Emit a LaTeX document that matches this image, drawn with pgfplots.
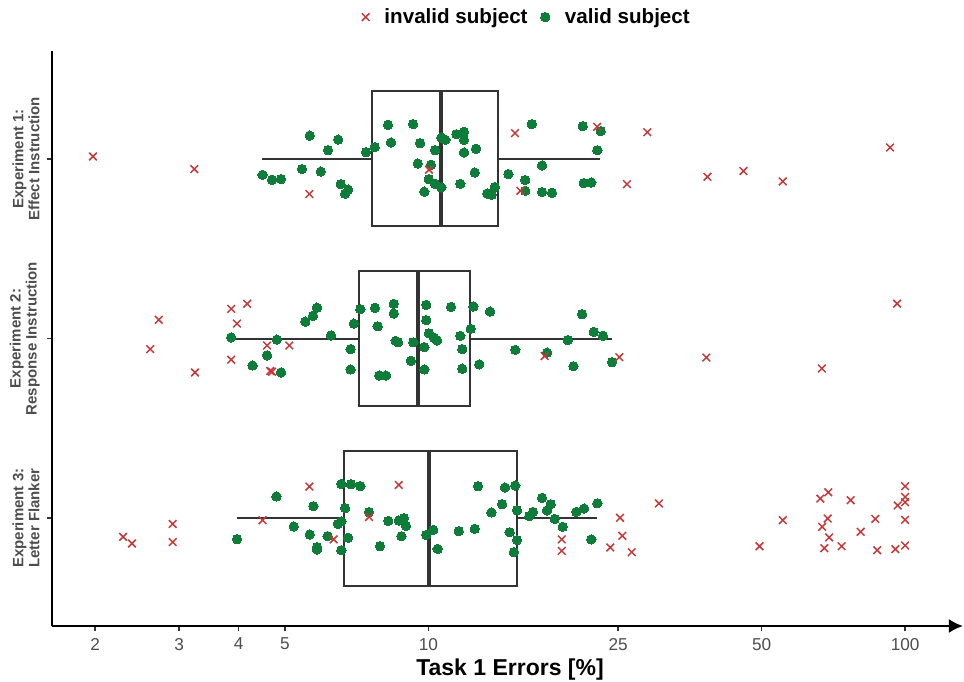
\documentclass[border=0pt]{standalone}
\usepackage{fontspec}
\setmainfont{Liberation Sans}
\usepackage{pgfplots}
\pgfplotsset{compat=1.18}
\usepgfplotslibrary{statistics}
\usetikzlibrary{arrows.meta}
\definecolor{invred}{RGB}{200,55,55}
\definecolor{valgreen}{RGB}{13,125,57}
\definecolor{boxgray}{RGB}{51,51,51}
\definecolor{txtgray}{RGB}{77,77,77}
\begin{document}
\begin{tikzpicture}
\useasboundingbox (-25.85pt,-27.5pt) rectangle (456.15pt,313pt);
\begin{axis}[
  at={(0,0)}, anchor=south west,
  scale only axis, width=455.6pt, height=287.5pt,
  xmode=log, xmin=1.622, xmax=132.2, ymin=0.4, ymax=3.6,
  axis lines*=left,
  x axis line style={line width=1pt, -{Latex[length=7pt,width=7pt]}},
  y axis line style={line width=1pt},
  xtick={2,3,4,5,10,25,50,100},
  xticklabels={2,3,4,5,10,25,50,100},
  minor xtick={},
  ytick={1,2,3},
  yticklabels={{Experiment 3:\\Letter Flanker},{Experiment 2:\\Response Instruction},{Experiment 1:\\Effect Instruction}},
  tick align=outside, major tick length=2.5pt,
  tick style={line width=0.8pt, color=boxgray},
  xticklabel style={font=\fontsize{8.6}{10}\selectfont, text=txtgray},
  yticklabel style={rotate=90, anchor=south, align=center, font=\fontsize{7.5}{8}\selectfont\bfseries, text=txtgray},
  xlabel={Task 1 Errors [\%]},
  xlabel style={font=\fontsize{11.5}{13}\selectfont\bfseries, at={(axis description cs:0.503,0)}, anchor=north, yshift=-13pt},
  clip=false,
  reverse legend,
  legend columns=2,
  legend style={draw=none, fill=none, at={(0.5225,1.059)}, anchor=center, font=\fontsize{10.3}{11}\selectfont\bfseries,
    /tikz/every odd column/.append style={column sep=5.5pt},
    /tikz/every even column/.append style={column sep=4.5pt}},
  boxplot/every median/.style={line width=2pt},
]
% boxes
\addplot+[forget plot, solid, draw=boxgray, fill=white, line width=1pt, mark=none,
  boxplot prepared={draw position=3, lower whisker=4.48, lower quartile=7.62, median=10.63, upper quartile=14.0, upper whisker=22.9, box extend=0.75, whisker extend=0, draw direction=x}] coordinates {};
\addplot+[forget plot, solid, draw=boxgray, fill=white, line width=1pt, mark=none,
  boxplot prepared={draw position=2, lower whisker=3.85, lower quartile=7.15, median=9.52, upper quartile=12.23, upper whisker=24.3, box extend=0.75, whisker extend=0, draw direction=x}] coordinates {};
\addplot+[forget plot, solid, draw=boxgray, fill=white, line width=1pt, mark=none,
  boxplot prepared={draw position=1, lower whisker=3.97, lower quartile=6.66, median=10.05, upper quartile=15.35, upper whisker=22.6, box extend=0.75, whisker extend=0, draw direction=x}] coordinates {};
% valid subjects
\addplot[only marks, mark=*, mark size=2.35pt, mark options={draw=valgreen, fill=valgreen, line width=0pt}] coordinates {
(5.64,3.129) (6.47,3.107) (6.16,3.048) (7.40,3.037) (7.72,3.065) (8.23,3.189) (9.29,3.193) (8.35,3.091) (9.61,3.087) (10.65,3.118) (10.86,3.106) (10.33,3.048) (11.45,3.137) (11.88,3.150) (11.88,3.106) (11.88,3.035) (12.59,3.056) (4.49,2.911) (4.70,2.883) (4.91,2.887) (5.43,2.943) (5.95,2.929) (6.55,2.859) (6.79,2.829) (6.69,2.806) (9.50,2.974) (10.13,2.967) (10.02,2.887) (10.33,2.861) (10.65,2.841) (9.81,2.817) (11.67,2.861) (12.51,2.924) (13.29,2.807) (13.58,2.800) (13.78,2.843) (16.48,3.193) (15.97,2.822) (15.97,2.882) (14.72,2.915) (17.32,2.963) (17.32,2.815) (18.17,2.811) (21.08,3.182) (22.99,3.154) (22.62,3.048) (21.18,2.865) (21.97,2.868)
(3.86,2.006) (4.81,1.994) (4.59,1.906) (4.28,1.850) (4.91,1.811) (5.52,2.094) (5.73,2.126) (5.84,2.172) (6.25,2.017) (6.98,2.083) (7.20,2.163) (6.87,1.941) (6.87,1.828) (7.73,2.171) (7.83,2.068) (8.46,2.193) (8.46,2.139) (8.54,1.987) (8.64,1.979) (7.89,1.794) (8.15,1.794) (9.30,1.979) (9.19,1.876) (9.90,2.187) (9.90,2.102) (10.03,2.029) (10.28,2.004) (10.43,1.989) (9.81,1.952) (9.81,1.828) (11.16,2.176) (11.67,2.015) (11.78,1.941) (11.78,1.832) (12.43,2.178) (12.27,2.054) (12.79,1.856) (13.47,2.150) (15.22,1.937) (17.74,1.921) (19.61,1.991) (20.15,1.846) (21.01,2.135) (22.23,2.037) (23.25,2.015) (24.28,1.868)
(3.97,0.883) (4.80,1.121) (5.22,0.954) (5.64,0.909) (5.74,1.067) (5.84,0.839) (5.84,0.826) (6.15,0.900) (6.46,0.968) (6.57,0.982) (6.69,1.056) (6.79,0.891) (6.57,0.822) (6.57,1.191) (6.88,1.189) (7.20,1.179) (7.51,1.033) (7.92,0.844) (8.24,0.985) (8.67,0.987) (8.89,1.000) (8.98,0.956) (8.78,0.900) (9.90,0.907) (10.24,0.935) (10.46,0.829) (11.58,0.928) (12.51,0.941) (12.71,1.178) (14.48,1.171) (15.22,1.182) (13.56,1.032) (14.28,1.078) (15.35,1.044) (14.81,0.922) (15.35,0.878) (15.11,0.811) (16.28,1.011) (16.58,1.035) (17.32,1.113) (18.06,1.078) (17.74,1.043) (18.41,0.996) (19.14,0.952) (20.44,1.035) (21.21,1.054) (22.62,1.083) (21.97,0.882)
};
\addlegendentry{valid subject}
% invalid subjects
\addplot[only marks, mark=x, mark size=2.7pt, mark options={draw=invred, line width=0.75pt}] coordinates {
(1.98,3.013) (3.23,2.943) (5.63,2.804) (10.03,2.939) (15.2,3.143) (15.6,2.822) (22.6,3.178) (28.8,3.148) (26.1,2.859) (38.5,2.900) (45.8,2.932) (55.4,2.874) (93.0,3.063)
(2.72,2.104) (2.61,1.941) (3.24,1.811) (3.86,2.165) (4.17,2.193) (3.97,2.083) (3.86,1.882) (4.59,1.961) (5.11,1.961) (4.70,1.815) (4.66,1.819) (17.54,1.902) (25.15,1.896) (38.3,1.894) (66.9,1.833) (96.2,2.194)
(2.29,0.896) (2.39,0.859) (2.91,0.968) (2.91,0.867) (4.49,0.989) (5.63,1.176) (6.33,0.882) (7.51,1.007) (8.67,1.185) (19.05,0.882) (19.05,0.818) (25.24,1.002) (25.52,0.902) (24.08,0.837) (26.71,0.811) (30.46,1.082) (49.5,0.844) (55.4,0.989) (66.4,1.109) (69.0,1.144) (67.0,0.952) (68.8,0.998) (69.3,0.893) (67.7,0.833) (73.6,0.844) (76.9,1.100) (80.7,0.924) (86.6,0.996) (87.4,0.822) (95.4,0.828) (96.5,1.071) (100,1.178) (100,1.118) (100,1.089) (100,0.991) (100,0.848)
};
\addlegendentry{invalid subject}
\end{axis}
\end{tikzpicture}
\end{document}
